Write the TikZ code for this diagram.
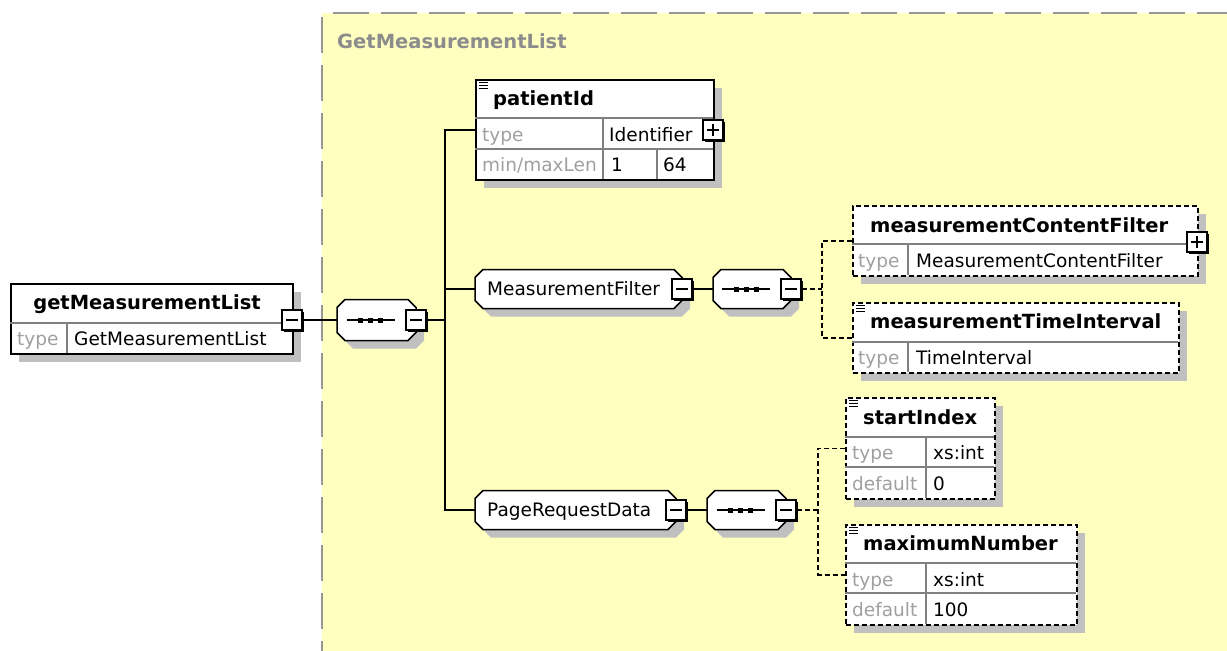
\documentclass[tikz,border=0pt]{standalone}
\usepackage{fontspec}
\setmainfont{DejaVu Sans}
\usepackage{tikz}
\usetikzlibrary{calc,shadows}

\definecolor{panel}{RGB}{255,255,192}
\definecolor{panelline}{RGB}{150,150,150}
\definecolor{panelgray}{RGB}{140,140,140}
\definecolor{shadowgray}{RGB}{192,192,192}
\definecolor{labelgray}{RGB}{160,160,160}

\tikzset{
  nametext/.style={font=\fontsize{19.5}{23}\selectfont\bfseries, inner sep=0pt, anchor=base west},
  valtext/.style={font=\fontsize{18.5}{22}\selectfont, inner sep=0pt, anchor=base west},
  keytext/.style={valtext, text=labelgray},
  boxshadow/.style={drop shadow={shadow xshift=8pt, shadow yshift=-8pt, fill=shadowgray, opacity=1}},
  elembox/.style={draw, fill=white, line width=1.5pt, inner sep=0pt, anchor=north west, boxshadow},
  optbox/.style={elembox, dash pattern=on 5pt off 3pt},
  rowline/.style={draw=gray, line width=1.2pt},
  octaslot/.style={rectangle, inner sep=0pt, outer sep=0pt},
  octaline/.style={draw, fill=white, line width=1.5pt},
  tog/.style={draw, fill=white, minimum size=20pt, inner sep=0pt, line width=1.2pt,
    drop shadow={shadow xshift=2pt, shadow yshift=-2pt, fill=black, opacity=1}},
  collapse/.style={tog, path picture={
      \draw[line width=1.2pt] ([xshift=4pt]path picture bounding box.west) -- ([xshift=-4pt]path picture bounding box.east);}},
  expand/.style={tog, path picture={
      \draw[line width=1.2pt] ([xshift=4pt]path picture bounding box.west) -- ([xshift=-4pt]path picture bounding box.east)
        ([yshift=-4pt]path picture bounding box.north) -- ([yshift=4pt]path picture bounding box.south);}},
  conn/.style={line width=1.5pt},
  optconn/.style={conn, dash pattern=on 5pt off 3pt}
}

\begin{document}
\begin{tikzpicture}[x=1pt,y=-1pt]
\useasboundingbox (0,0) rectangle (1227,651);
% panel of the complex type
\fill[panel] (322,13) rectangle (1227,651);
\draw[panelline, line width=2pt, dash pattern=on 36pt off 12pt, dash phase=37pt] (322,13) -- (1227,13);
\draw[panelline, line width=2pt, dash pattern=on 36pt off 12pt, dash phase=44pt] (322,13) -- (322,651);
\node[nametext, text=panelgray] (paneltitle) at (337,48) {GetMeasurementList};

% octagon slots (compositors and complex elements)
\node[octaslot, minimum width=79pt, minimum height=41pt] (seq1) at (376.5,320) {};
\node[octaslot, minimum width=207pt, minimum height=39pt] (mf) at (578.5,289) {};
\node[octaslot, minimum width=78pt, minimum height=39pt] (seq2) at (752,289) {};
\node[octaslot, minimum width=201pt, minimum height=39pt] (prd) at (575.5,510) {};
\node[octaslot, minimum width=79pt, minimum height=39pt] (seq3) at (746.5,510) {};
\foreach \n in {seq1,mf,seq2,prd,seq3} {
  \fill[shadowgray] ($(\n.north west)+(16,8)$) -- ($(\n.north east)+(0,8)$) -- ($(\n.north east)+(8,16)$)
    -- ($(\n.south east)+(8,0)$) -- ($(\n.south east)+(0,8)$) -- ($(\n.south west)+(16,8)$)
    -- ($(\n.south west)+(8,0)$) -- ($(\n.north west)+(8,16)$) -- cycle;
  \draw[octaline] ($(\n.north west)+(8,0)$) -- ($(\n.north east)+(-8,0)$) -- ($(\n.north east)+(0,8)$)
    -- ($(\n.south east)+(0,-8)$) -- ($(\n.south east)+(-8,0)$) -- ($(\n.south west)+(8,0)$)
    -- ($(\n.south west)+(0,-8)$) -- ($(\n.north west)+(0,8)$) -- cycle;
}
\foreach \n in {seq1,seq2,seq3} {
  \draw[line width=1.2pt] ($(\n.center)+(-30,0)$) -- ++(48,0);
  \foreach \d in {-16,-6,4}
    \fill ($(\n.center)+(\d,0)$) +(-2.5,-2.5) rectangle +(2.5,2.5);
}

% root element
\node[elembox, minimum width=282pt, minimum height=70pt] (gml) at (10,283) {};
\draw[rowline] (10,323) -- (292,323) (67,323) -- (67,353);
\node[nametext, anchor=base] (gmlname) at (147,309) {getMeasurementList};
\node[keytext] (gmlkey) at (17,345) {type};
\node[valtext] (gmlval) at (74,345) {GetMeasurementList};
\node[collapse] (gmltog) at (292,320) {};
\node[collapse] (seq1tog) at (416,320) {};

% patientId
\node[elembox, minimum width=238pt, minimum height=100pt] (pid) at (475,79) {};
\draw[rowline] (475,118) -- (713,118) (475,149) -- (713,149) (603,118) -- (603,179) (657,149) -- (657,179);
\node[nametext] (pidname) at (493,105) {patientId};
\node[keytext] (pidkey1) at (482,141) {type};
\node[valtext] (pidval1) at (609,141) {Identifier};
\node[keytext] (pidkey2) at (482,171) {min/maxLen};
\node[valtext] (pidmin) at (611,171) {1};
\node[valtext] (pidmax) at (663,171) {64};
\node[expand] (pidtog) at (713,130) {};

% MeasurementFilter
\node[valtext] (mfname) at (487,295) {MeasurementFilter};
\node[collapse] (mftog) at (682,289) {};
\node[collapse] (seq2tog) at (791,289) {};

\node[optbox, minimum width=345pt, minimum height=70pt] (mcf) at (852,205) {};
\draw[rowline] (852,244) -- (1197,244) (908,244) -- (908,275);
\node[nametext] (mcfname) at (870,232) {measurementContentFilter};
\node[keytext] (mcfkey) at (858,267) {type};
\node[valtext] (mcfval) at (916,267) {MeasurementContentFilter};
\node[expand] (mcftog) at (1197,242) {};

\node[optbox, minimum width=326pt, minimum height=70pt] (mti) at (852,302) {};
\draw[rowline] (852,342) -- (1178,342) (908,342) -- (908,372);
\node[nametext] (mtiname) at (870,328) {measurementTimeInterval};
\node[keytext] (mtikey) at (858,364) {type};
\node[valtext] (mtival) at (916,364) {TimeInterval};

% PageRequestData
\node[valtext] (prdname) at (487,516) {PageRequestData};
\node[collapse] (prdtog) at (676,510) {};
\node[collapse] (seq3tog) at (786,510) {};

\node[optbox, minimum width=149pt, minimum height=101pt] (si) at (845,397) {};
\draw[rowline] (845,437) -- (994,437) (845,467) -- (994,467) (926,437) -- (926,498);
\node[nametext] (siname) at (863,424) {startIndex};
\node[keytext] (sikey1) at (852,459) {type};
\node[valtext] (sival1) at (933,459) {xs:int};
\node[keytext] (sikey2) at (852,490) {default};
\node[valtext] (sival2) at (933,490) {0};

\node[optbox, minimum width=231pt, minimum height=100pt] (mn) at (845,524) {};
\draw[rowline] (845,563) -- (1076,563) (845,593) -- (1076,593) (926,563) -- (926,624);
\node[nametext] (mnname) at (863,550) {maximumNumber};
\node[keytext] (mnkey1) at (852,586) {type};
\node[valtext] (mnval1) at (933,586) {xs:int};
\node[keytext] (mnkey2) at (852,616) {default};
\node[valtext] (mnval2) at (933,616) {100};

% annotation marks
\foreach \n in {pid,mti,si,mn}
  \foreach \k in {3,6,9}
    \draw[line width=0.8pt] ($(\n.north west)+(4,\k)$) -- ++(9,0);

% connectors
\coordinate (trunk) at (445,320);
\coordinate (mfjoin) at (822,289);
\coordinate (prjoin) at (818,510);
\draw[conn] (gmltog) -- (seq1);
\draw[conn] (seq1tog) -- (trunk);
\draw[conn] (pid.west) -| (trunk) |- (prd.west);
\draw[conn] (mf.west) -- (mf.west -| trunk);
\draw[conn] (mftog) -- (seq2);
\draw[conn] (prdtog) -- (seq3);
\draw[optconn] (seq2tog) -- (mfjoin);
\draw[optconn] (mcf.west) -| (mfjoin) |- (mti.west);
\draw[optconn] (seq3tog) -- (prjoin);
\draw[optconn] (si.west) -| (prjoin) |- (mn.west);
\end{tikzpicture}
\end{document}
